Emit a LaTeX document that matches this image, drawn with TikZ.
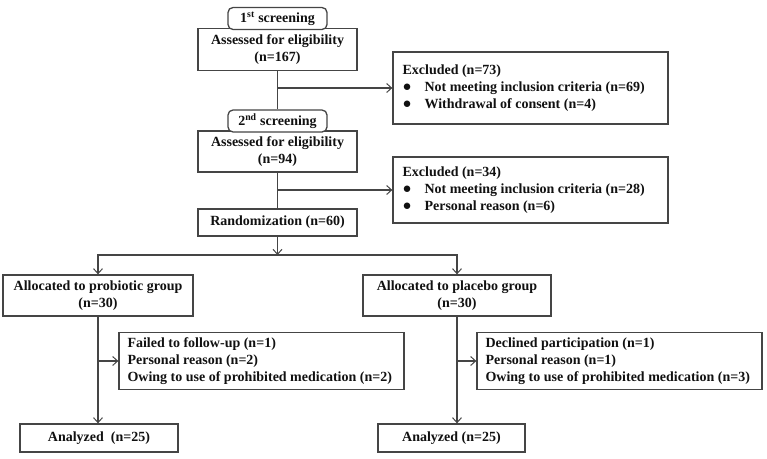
\documentclass[tikz,border=0pt]{standalone}
\usepackage{fontspec}
\setmainfont{Liberation Serif}
\usetikzlibrary{arrows.meta}
\definecolor{linec}{HTML}{454545}
\definecolor{textc}{HTML}{111111}
\tikzset{
  box/.style={draw=linec, line width=1.3pt, fill=white, inner sep=0pt},
  tab/.style={box, rounded corners=5pt},
  txt/.style={inner sep=0pt, text=textc, font=\fontsize{14}{17}\selectfont\bfseries, align=center},
  ltxt/.style={txt, align=left, anchor=west},
  conn/.style={draw=linec, line width=1.3pt},
  arr/.style={conn, -{Straight Barb[length=5pt,width=9pt,line width=1pt]}},
}
\newcommand{\bul}{\makebox[22pt][l]{\fontsize{15}{17}\selectfont ●}}
\begin{document}
\begin{tikzpicture}[x=1pt,y=-1pt]
\useasboundingbox (0,0) rectangle (767,458);
% first screening
\node[box, minimum width=159pt, minimum height=42pt] (b1) at (277.5,49.5) {};
\node[txt] (b1t) at (b1.center) {Assessed for eligibility\\(n=167)};
\node[tab, minimum width=99pt, minimum height=22pt] (tab1) at (277.5,18.5) {};
\node[txt] (tab1t) at (tab1.center) {1\textsuperscript{st} screening};
% excluded 1
\node[box, minimum width=275pt, minimum height=72pt] (ex1) at (530.5,88) {};
\node[ltxt] (ex1t) at ([xshift=10pt]ex1.west) {Excluded (n=73)\\\bul Not meeting inclusion criteria (n=69)\\\bul Withdrawal of consent (n=4)};
% second screening
\node[box, minimum width=159pt, minimum height=41pt] (b2) at (277.5,151.5) {};
\node[txt] (b2t) at (b2.center) {Assessed for eligibility\\(n=94)};
\node[tab, minimum width=99pt, minimum height=22pt] (tab2) at (277.5,121) {};
\node[txt] (tab2t) at (tab2.center) {2\textsuperscript{nd} screening};
% excluded 2
\node[box, minimum width=275pt, minimum height=66pt] (ex2) at (530.5,190) {};
\node[ltxt] (ex2t) at ([xshift=10pt]ex2.west) {Excluded (n=34)\\\bul Not meeting inclusion criteria (n=28)\\\bul Personal reason (n=6)};
% randomization
\node[box, minimum width=159pt, minimum height=27pt] (rand) at (277.5,222.5) {};
\node[txt] (randt) at (rand.center) {Randomization (n=60)};
% groups
\node[box, minimum width=190pt, minimum height=41pt] (pro) at (98,295.5) {};
\node[txt] (prot) at (pro.center) {Allocated to probiotic group\\(n=30)};
\node[box, minimum width=188pt, minimum height=41pt] (pla) at (457,295.5) {};
\node[txt] (plat) at (pla.center) {Allocated to placebo group\\(n=30)};
% losses
\node[box, minimum width=285pt, minimum height=57pt] (fail) at (261.5,361) {};
\node[ltxt] (failt) at ([xshift=9pt]fail.west) {Failed to follow-up (n=1)\\Personal reason (n=2)\\Owing to use of prohibited medication (n=2)};
\node[box, minimum width=285pt, minimum height=57pt] (dec) at (619.5,361) {};
\node[ltxt] (dect) at ([xshift=9pt]dec.west) {Declined participation (n=1)\\Personal reason (n=1)\\Owing to use of prohibited medication (n=3)};
% analyzed
\node[box, minimum width=158pt, minimum height=28pt] (an1) at (99,438) {};
\node[txt] (an1t) at (an1.center) {Analyzed~~(n=25)};
\node[box, minimum width=147pt, minimum height=28pt] (an2) at (451.5,438) {};
\node[txt] (an2t) at (an2.center) {Analyzed (n=25)};
% connectors
\coordinate (split) at (277.5,255);
\draw[conn] (b1.south) -- (tab2.north);
\draw[arr] (b1.south |- ex1.west) -- (ex1.west);
\draw[conn] (b2.south) -- (rand.north);
\draw[arr] (b2.south |- ex2.west) -- (ex2.west);
\draw[arr] (rand.south) -- (split);
\draw[arr] (split) -| (pro.north);
\draw[arr] (split) -| (pla.north);
\draw[arr] (pro.south) -- (pro.south |- an1.north);
\draw[arr] (pro.south |- fail.west) -- (fail.west);
\draw[arr] (pla.south) -- (pla.south |- an2.north);
\draw[arr] (pla.south |- dec.west) -- (dec.west);
\end{tikzpicture}
\end{document}
